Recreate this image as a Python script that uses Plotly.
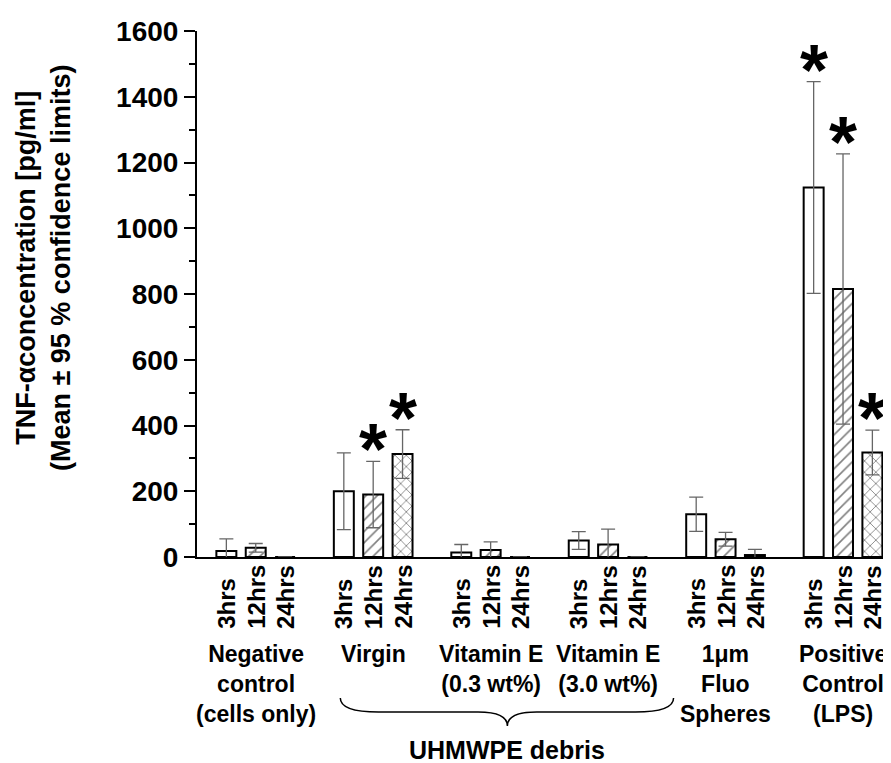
import plotly.graph_objects as go

# ---- data ----
groups = ["Negative<br>control<br>(cells only)", "Virgin", "Vitamin E<br>(0.3 wt%)",
          "Vitamin E<br>(3.0 wt%)", "1μm<br>Fluo<br>Spheres", "Positive<br>Control<br>(LPS)"]
series = ["3hrs", "12hrs", "24hrs"]
mean_3h = [18, 200, 14, 50, 130, 1124]
ci_3h = [37, 117, 24, 27, 52, 322]
mean_12h = [28, 190, 21, 38, 54, 815]
ci_12h = [13, 101, 25, 47, 21, 411]
mean_24h = [0, 313, 0, 0, 6, 318]
ci_24h = [0, 74, 0, 0, 17, 68]
sig_3h = [0, 0, 0, 0, 0, 1]
sig_12h = [0, 1, 0, 0, 0, 1]
sig_24h = [0, 1, 0, 0, 0, 1]
bracket_label = "UHMWPE debris"
y_ticks = [0, 200, 400, 600, 800, 1000, 1200, 1400, 1600]

means = [mean_3h, mean_12h, mean_24h]
cis = [ci_3h, ci_12h, ci_24h]
sigs = [sig_3h, sig_12h, sig_24h]
patterns = ["", "/", "x"]

FONT = "Liberation Sans, Arial, sans-serif"
OFF = 8  # page body margin
W, H = 891 - OFF, 763 - OFF
ML, MR, MT, MB = 197 - OFF, 1, 31 - OFF, 206
ph = H - MT - MB
pw = W - ML - MR
def ypaper(px):  # px in screenshot coordinates
    return (H - MB - (px - OFF)) / ph

fig = go.Figure()
for j in range(3):
    xs = [g * 4 + j for g in range(len(groups))]
    fig.add_trace(go.Bar(
        x=xs, y=means[j], width=0.68, name=series[j],
        marker=dict(color="white", line=dict(color="black", width=2),
                    pattern=dict(shape=patterns[j], fgcolor="black", bgcolor="white",
                                 size=8, solidity=0.2)),
        error_y=dict(type="data", array=cis[j], visible=True, color="#666666",
                     thickness=1.3, width=7),
        showlegend=False))

ann = []
for g in range(len(groups)):
    for j in range(3):
        ann.append(dict(x=g * 4 + j, xref="x", y=ypaper(631), yref="paper",
                        text=series[j], textangle=-90, showarrow=False,
                        xanchor="center", yanchor="bottom",
                        font=dict(family=FONT, size=24, color="black", weight="bold")))
    ann.append(dict(x=g * 4 + 1, xref="x", y=ypaper(639), yref="paper",
                    text=groups[g], showarrow=False, xanchor="center", yanchor="top",
                    font=dict(family=FONT, size=23, color="black", weight="bold")))
    for j in range(3):
        if sigs[j][g]:
            ann.append(dict(x=g * 4 + j, xref="x", y=means[j][g] + cis[j][g], yref="y",
                            text="*", showarrow=False, xanchor="center", yanchor="bottom",
                            yshift=-30,
                            font=dict(family=FONT, size=72, color="black", weight="bold")))

# brace across the UHMWPE groups
bx0, bxm, bx1 = 4 - 0.12, 9.57, 15.23
yt, yl, yp = ypaper(698), ypaper(712), ypaper(726)
path = (f"M {bx0},{yt} Q {bx0},{yl} {bx0+1.3},{yl} L {bxm-1.0},{yl} "
        f"Q {bxm},{yl} {bxm},{yp} Q {bxm},{yl} {bxm+1.0},{yl} "
        f"L {bx1-1.3},{yl} Q {bx1},{yl} {bx1},{yt}")
fig.add_shape(type="path", path=path, xref="x", yref="paper",
              line=dict(color="black", width=1.5))
ann.append(dict(x=bxm, xref="x", y=ypaper(734), yref="paper", text=bracket_label,
                showarrow=False, xanchor="center", yanchor="top",
                font=dict(family=FONT, size=25, color="black", weight="bold")))
# y title
ann.append(dict(x=(43 - OFF - ML) / pw, xref="paper", y=ypaper(268), yref="paper",
                text="TNF-αconcentration [pg/ml]<br>(Mean ± 95 % confidence limits)",
                textangle=-90, showarrow=False, xanchor="center", yanchor="middle",
                font=dict(family=FONT, size=27, color="black", weight="bold")))

fig.update_layout(
    width=W, height=H, margin=dict(l=ML, r=MR, t=MT, b=MB),
    plot_bgcolor="white", paper_bgcolor="white", barmode="overlay",
    annotations=ann,
    xaxis=dict(range=[-1, 22.6], showline=True, linecolor="black", linewidth=2,
               showgrid=False, zeroline=False, showticklabels=False, ticks=""),
    yaxis=dict(range=[0, 1600], tickvals=y_ticks, showline=True, linecolor="black",
               linewidth=2, showgrid=False, zeroline=False, ticks="outside",
               ticklen=11, tickwidth=2, tickcolor="black", automargin=False,
               minor=dict(dtick=100, ticks="outside", ticklen=6, tickwidth=2, tickcolor="black"),
               tickfont=dict(family=FONT, size=28, color="black", weight="bold")),
)
fig.write_html("out.html")
